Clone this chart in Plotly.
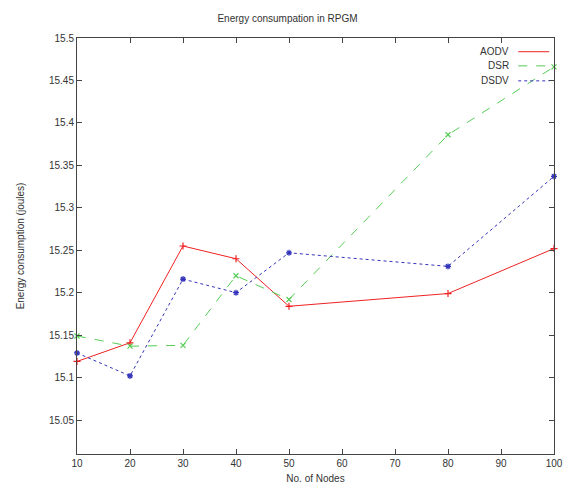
import plotly.graph_objects as go

nodes = [10, 20, 30, 40, 50, 80, 100]
aodv = [15.119, 15.141, 15.255, 15.240, 15.184, 15.199, 15.252]
dsr = [15.149, 15.137, 15.138, 15.220, 15.192, 15.386, 15.466]
dsdv = [15.129, 15.102, 15.216, 15.200, 15.247, 15.231, 15.337]

series = [
    ("AODV", aodv, "#ee2222", "solid", "cross-thin-open"),
    ("DSR", dsr, "#55cc55", "dash", "x-thin-open"),
    ("DSDV", dsdv, "#3333bb", "dot", "asterisk-open"),
]

font = "Liberation Sans, Arial, sans-serif"
fig = go.Figure()
for name, ys, col, dash, sym in series:
    fig.add_trace(go.Scatter(
        x=nodes, y=ys, name=name, mode="lines+markers",
        line=dict(color=col, width=1, dash=dash),
        marker=dict(symbol=sym, size=5, color=col, line=dict(color=col, width=1.2)),
        showlegend=False, cliponaxis=False))

# manual gnuplot-style legend (text right-aligned, sample on the right)
leg_y = [0.967, 0.933, 0.897]
for (name, ys, col, dash, sym), yy in zip(series, leg_y):
    fig.add_annotation(x=0.91, y=yy, xref="paper", yref="paper", text=name,
                       showarrow=False, xanchor="right", yanchor="middle",
                       font=dict(size=10, color="#333333", family=font))
    fig.add_shape(type="line", xref="paper", yref="paper",
                  x0=0.925, x1=0.99, y0=yy, y1=yy,
                  line=dict(color=col, width=1, dash=dash))

fig.update_layout(
    width=575, height=494,
    margin=dict(l=77, r=16, t=38, b=40),
    paper_bgcolor="white", plot_bgcolor="white",
    font=dict(family=font, size=10, color="#333333"),
    title=dict(text="Energy consumpation in RPGM", x=0.5, xanchor="center",
               y=0.962, yanchor="middle", font=dict(size=10, color="#333333")),
)
fig.update_xaxes(range=[10, 100], tickvals=list(range(10, 101, 10)),
                 showgrid=False, zeroline=False, showline=True, linecolor="#444444",
                 linewidth=1, mirror="ticks", ticks="inside", ticklen=5,
                 tickcolor="#444444",
                 title=dict(text="No. of Nodes", standoff=6, font=dict(size=10)))
fig.update_yaxes(range=[15.01, 15.5],
                 tickvals=[15.05, 15.1, 15.15, 15.2, 15.25, 15.3, 15.35, 15.4, 15.45, 15.5],
                 ticktext=["15.05", "15.1", "15.15", "15.2", "15.25", "15.3", "15.35", "15.4", "15.45", "15.5"],
                 showgrid=False, zeroline=False, showline=True, linecolor="#444444",
                 linewidth=1, mirror="ticks", ticks="inside", ticklen=5,
                 tickcolor="#444444",
                 title=dict(text="Energy consumption (joules)", standoff=22, font=dict(size=10)))

fig.write_html("out.html")
